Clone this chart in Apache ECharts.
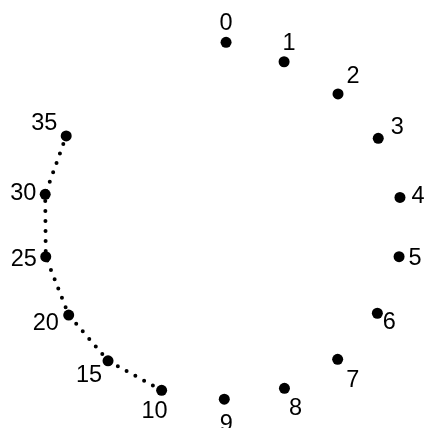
<!DOCTYPE html>
<html>
<head>
<meta charset="utf-8">
<script src="https://cdn.jsdelivr.net/npm/echarts@6/dist/echarts.min.js"></script>
<style>
    html, body { margin: 0; padding: 0; background: #fff; }
    #chart { width: 425px; height: 428px; }
</style>
</head>
<body>
<div id="chart"></div>
<script>
// dot labels, in drawing order
var labels = ['0', '1', '2', '3', '4', '5', '6', '7', '8', '9', '10', '15', '20', '25', '30', '35'];
// dot positions (units of the figure radius, origin at the middle)
var xs = [0.020, 0.346, 0.649, 0.875, 0.997, 0.992, 0.870, 0.647, 0.348, 0.010, -0.342, -0.643, -0.864, -0.993, -0.996, -0.878];
var ys = [1.029, 0.920, 0.739, 0.490, 0.158, -0.175, -0.493, -0.752, -0.915, -0.976, -0.926, -0.760, -0.503, -0.175, 0.175, 0.503];
// dots already joined by the dotted line start here
var joinedFrom = 10;

// where each number sits next to its dot (px)
var labelOffset = [[0, -19], [5, -18], [15, -17], [19, -11], [18, -1], [16, 2], [12, 9], [15, 21],
    [11, 20], [2, 25], [-7, 21], [-19, 15], [-23, 8], [-22, 3], [-22, -1], [-22, -12]];

(function () {
    var chart = echarts.init(document.getElementById('chart'));

    var dots = labels.map(function (name, i) {
        return {
            name: name,
            value: [xs[i], ys[i]],
            label: { offset: labelOffset[i] }
        };
    });
    var joined = [];
    for (var i = joinedFrom; i < labels.length; i++) {
        joined.push([xs[i], ys[i]]);
    }

    chart.setOption({
        backgroundColor: '#fff',
        animation: false,
        grid: { left: 44.5, top: 47.5, width: 356, height: 356 },
        xAxis: { type: 'value', min: -1, max: 1, show: false },
        yAxis: { type: 'value', min: -1, max: 1, show: false },
        series: [
            {
                type: 'line',
                data: joined,
                clip: false,
                symbol: 'none',
                lineStyle: { color: '#000', width: 4, type: [0, 10], cap: 'round', opacity: 1 },
                z: 1
            },
            {
                type: 'scatter',
                data: dots,
                clip: false,
                symbolSize: 11,
                itemStyle: { color: '#000', opacity: 1 },
                label: {
                    show: true,
                    position: 'inside',
                    formatter: '{b}',
                    color: '#000',
                    fontFamily: 'Liberation Sans',
                    fontSize: 23.5
                },
                z: 2
            }
        ]
    });
})();
</script>
</body>
</html>
